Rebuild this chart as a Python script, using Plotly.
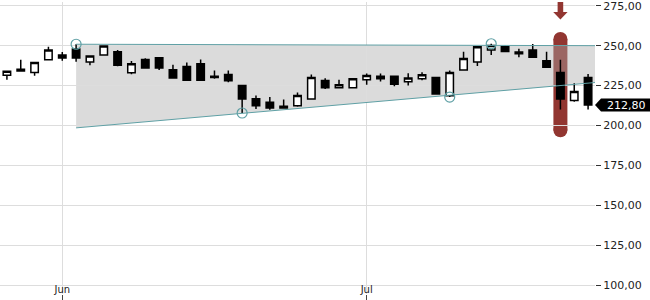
import plotly.graph_objects as go

# ---------------- data ----------------
dates = ["2020-05-26", "2020-05-27", "2020-05-28", "2020-05-29",
         "2020-06-01", "2020-06-02", "2020-06-03", "2020-06-04", "2020-06-05",
         "2020-06-08", "2020-06-09", "2020-06-10", "2020-06-11", "2020-06-12",
         "2020-06-15", "2020-06-16", "2020-06-17", "2020-06-18", "2020-06-19",
         "2020-06-22", "2020-06-23", "2020-06-24", "2020-06-25", "2020-06-26",
         "2020-06-29", "2020-06-30", "2020-07-01", "2020-07-02", "2020-07-03",
         "2020-07-06", "2020-07-07", "2020-07-08", "2020-07-09", "2020-07-10",
         "2020-07-13", "2020-07-14", "2020-07-15", "2020-07-16", "2020-07-17",
         "2020-07-20", "2020-07-21", "2020-07-22", "2020-07-23"]
open_ = [231.5, 235.2, 233.2, 241.1, 244.2, 247.9, 239.8, 244.2, 246.2, 233.0,
         241.3, 242.5, 234.9, 236.9, 238.6, 230.9, 231.9, 225.1, 216.8, 214.5,
         212.0, 212.4, 216.6, 228.2, 223.7, 223.7, 228.6, 229.2, 230.9, 227.4,
         229.2, 230.1, 218.6, 234.8, 239.8, 247.3, 249.3, 246.0, 247.3, 240.6,
         233.2, 215.7, 230.1]
high = [234.0, 241.1, 240.0, 249.3, 246.0, 250.9, 243.6, 249.8, 247.3, 240.4,
        242.1, 242.5, 238.1, 239.4, 241.3, 234.4, 234.4, 225.1, 218.7, 217.8,
        216.2, 220.7, 231.9, 229.6, 228.6, 229.2, 232.5, 232.5, 230.9, 232.7,
        233.4, 230.1, 234.4, 246.2, 249.3, 251.2, 250.0, 248.1, 251.0, 246.2,
        241.1, 226.5, 232.2]
low = [228.6, 234.0, 231.1, 241.1, 240.6, 240.0, 237.7, 244.2, 237.1, 232.1,
       236.0, 234.7, 229.7, 228.4, 228.4, 229.3, 227.1, 207.8, 210.3, 209.9,
       210.8, 211.8, 216.2, 222.8, 223.7, 223.7, 225.5, 227.6, 224.5, 225.1,
       228.4, 219.7, 217.8, 234.8, 237.3, 244.2, 246.4, 242.7, 242.7, 236.4,
       210.0, 214.9, 210.0]
close = [234.0, 234.2, 239.4, 247.3, 242.3, 242.3, 243.6, 249.8, 237.7, 238.6,
         236.0, 236.0, 229.7, 228.4, 228.4, 230.0, 228.0, 216.6, 212.4, 211.0,
         210.9, 218.7, 230.1, 223.7, 225.5, 229.2, 231.3, 230.9, 225.9, 229.8,
         231.7, 219.7, 233.2, 241.9, 249.3, 250.1, 246.4, 245.0, 242.7, 236.4,
         216.6, 221.3, 212.8]

# triangle (resistance / support) lines
trend_dates = ["2020-06-02", "2020-07-23 12:00"]
resistance = [250.9, 250.0]
support = [198.5, 226.9]
# pivot touch points (indices into the series)
pivot_high_idx = [5, 35]
pivot_low_idx = [17, 32]
# highlighted signal candle
signal_idx = 40

y_range = [94.4, 277.36]
x_range = ["2020-05-25 12:00", "2020-07-23 12:00"]

# ---------------- styles ----------------
TEAL = "rgb(95,160,165)"
RED = "rgb(146,54,49)"
FONT = "DejaVu Sans"
PLOT_H = 294
px_per_unit = PLOT_H / (y_range[1] - y_range[0])

fig = go.Figure()

# candles
fig.add_trace(go.Candlestick(
    x=dates, open=open_, high=high, low=low, close=close,
    increasing=dict(fillcolor="white", line=dict(color="black", width=1.5)),
    decreasing=dict(fillcolor="black", line=dict(color="black", width=1.5)),
    whiskerwidth=0, hoverinfo="skip", showlegend=False))

# trend lines
for vals in (resistance, support):
    fig.add_trace(go.Scatter(x=trend_dates, y=vals, mode="lines",
                             line=dict(color=TEAL, width=1),
                             hoverinfo="skip", showlegend=False))

# pivot circles
px_ = [dates[i] for i in pivot_high_idx] + [dates[i] for i in pivot_low_idx]
py_ = [high[i] for i in pivot_high_idx] + [low[i] for i in pivot_low_idx]
fig.add_trace(go.Scatter(
    x=px_, y=py_, mode="markers",
    marker=dict(symbol="circle-open", size=10, color=TEAL,
                line=dict(width=1.2, color=TEAL)),
    hoverinfo="skip", showlegend=False))

shapes = []
# signal highlight pill (drawn below the band and the candles)
sd = dates[signal_idx]
pad = 28 / px_per_unit
r = 7
r_u = r / px_per_unit
top_c = high[signal_idx] + pad - r_u
bot_c = low[signal_idx] - pad + r_u
shapes.append(dict(type="rect", xref="x", yref="y", xsizemode="pixel", xanchor=sd,
                   x0=-r, x1=r, y0=bot_c, y1=top_c, fillcolor=RED,
                   line=dict(width=0), layer="below"))
for yc in (top_c, bot_c):
    shapes.append(dict(type="circle", xref="x", yref="y", xsizemode="pixel",
                       ysizemode="pixel", xanchor=sd, yanchor=yc,
                       x0=-r, x1=r, y0=-r, y1=r, fillcolor=RED,
                       line=dict(width=0), layer="below"))

# shaded triangle as a shape (below the candles)
def dpath(d):
    return d.replace(" ", "_")
band_path = (f"M {dpath(trend_dates[0])},{resistance[0]} "
             f"L {dpath(trend_dates[1])},{resistance[1]} "
             f"L {dpath(trend_dates[1])},{support[1]} "
             f"L {dpath(trend_dates[0])},{support[0]} Z")
shapes.append(dict(type="path", xref="x", yref="y", path=band_path,
                   fillcolor="rgba(170,170,170,0.42)", line=dict(width=0),
                   layer="below"))

# arrow above
shapes.append(dict(type="path", xref="x", yref="paper", xsizemode="pixel",
                   ysizemode="pixel", xanchor=sd, yanchor=1,
                   path="M -2.8 0 L 2.8 0 L 2.8 -10 L 7.2 -10 L 0 -17.5 L -7.2 -10 L -2.8 -10 Z",
                   fillcolor=RED, line=dict(width=0), layer="above"))

# last price label (right side, outside plot)
last = close[-1]
plot_w = 595
y_frac = (last - y_range[0]) / (y_range[1] - y_range[0])
hp = 6.5 / PLOT_H
tip = 595 / plot_w
bx = 601 / plot_w
rx = 652 / plot_w
shapes.append(dict(type="path", xref="paper", yref="paper",
                   path=f"M {tip} {y_frac} L {bx} {y_frac + hp} L {rx} {y_frac + hp} "
                        f"L {rx} {y_frac - hp} L {bx} {y_frac - hp} Z",
                   fillcolor="black", line=dict(width=0), layer="above"))

annotations = [dict(xref="paper", yref="y", x=605 / plot_w, y=last,
                    text=f"{last:.2f}".replace(".", ","), showarrow=False,
                    xanchor="left", yanchor="middle",
                    font=dict(family=FONT, size=11, color="white"))]

fig.update_layout(
    width=650, height=300,
    margin=dict(l=0, r=55, t=0, b=6),
    paper_bgcolor="white", plot_bgcolor="white",
    separators=",.",
    showlegend=False,
    boxgap=0.23,
    shapes=shapes, annotations=annotations,
    font=dict(family=FONT, size=11, color="#222"),
    xaxis=dict(type="date", range=x_range,
               rangebreaks=[dict(bounds=["sat", "mon"])],
               rangeslider=dict(visible=False),
               tick0="2020-06-01", dtick="M1", tickformat="%b",
               showgrid=True, gridcolor="#dddddd", gridwidth=1,
               ticks="outside", ticklen=5, tickcolor="#444",
               ticklabelposition="outside", ticklabelstandoff=-19,
               ticklabeloverflow="allow",
               tickfont=dict(family=FONT, size=10, color="#222"),
               showline=False, zeroline=False),
    yaxis=dict(side="right", range=y_range, tick0=100, dtick=25,
               tickformat=".2f", showgrid=True, gridcolor="#dddddd",
               gridwidth=1, ticks="outside", ticklen=5, tickcolor="#333",
               ticklabeloverflow="allow",
               tickfont=dict(family=FONT, size=11, color="#222"),
               showline=False, zeroline=False),
)

fig.write_html("out.html")
